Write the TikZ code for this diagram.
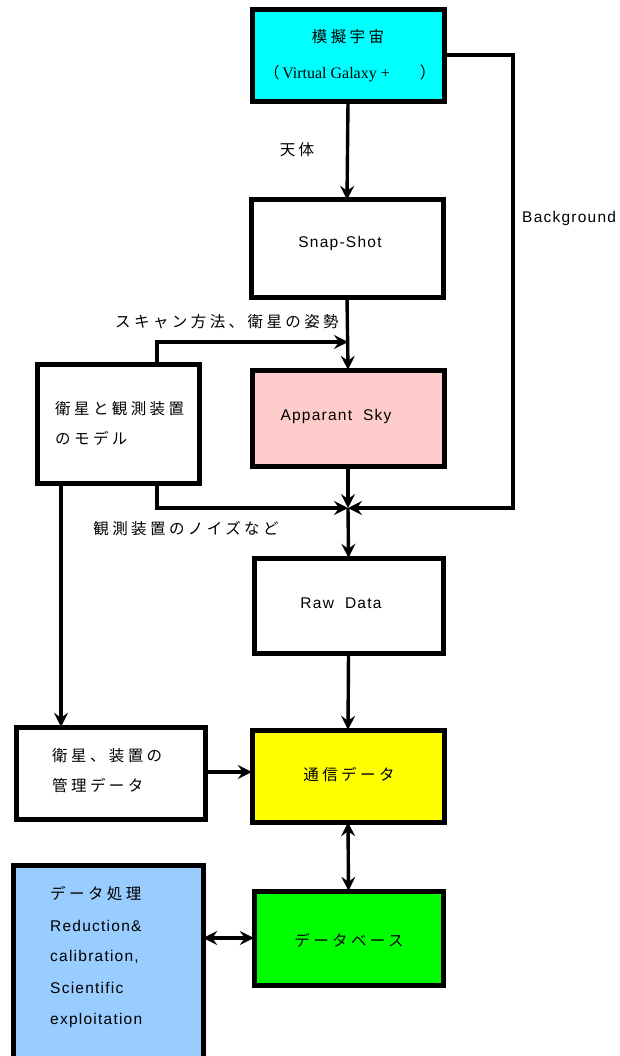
\documentclass[tikz,border=0pt]{standalone}
\usepackage{fontspec}
\setmainfont{Liberation Sans}[LetterSpace=8]
\newfontfamily\jp{Noto Sans CJK JP}[LetterSpace=22]
\newfontfamily\serifx{Liberation Serif}
\usetikzlibrary{arrows.meta}
\definecolor{cyanbox}{HTML}{00FFFF}
\definecolor{pinkbox}{HTML}{FFCCCC}
\definecolor{yellowbox}{HTML}{FFFF00}
\definecolor{greenbox}{HTML}{00FF00}
\definecolor{bluebox}{HTML}{99CCFF}
\tikzset{
  boxline/.style={line width=5pt},
  conn/.style={line width=3.4pt, -{Stealth[length=14pt,width=14pt,inset=5pt]}},
  dconn/.style={line width=3.4pt, {Stealth[length=14pt,width=14pt,inset=5pt]}-{Stealth[length=14pt,width=14pt,inset=5pt]}},
  lbl/.style={inner sep=0pt, font=\fontsize{15.5}{17}\selectfont},
}
\begin{document}
\begin{tikzpicture}[x=1pt,y=-1pt]
\useasboundingbox (0,0) rectangle (619,1056);
\begin{scope}
\clip (0,0) rectangle (619,1056);
% boxes
\draw[boxline, fill=cyanbox] (252,10) rectangle (444,102);
\node (sim) [minimum width=192pt, minimum height=92pt, inner sep=0pt] at (348,56) {};
\draw[boxline, fill=white] (251,200) rectangle (443,297);
\node (snap) [minimum width=192pt, minimum height=97pt, inner sep=0pt] at (347,248.5) {};
\draw[boxline, fill=pinkbox] (252,370) rectangle (444,466);
\node (sky) [minimum width=192pt, minimum height=96pt, inner sep=0pt] at (348,418) {};
\draw[boxline, fill=white] (37,364) rectangle (199,483);
\node (model) [minimum width=162pt, minimum height=119pt, inner sep=0pt] at (118,423.5) {};
\draw[boxline, fill=white] (254,558) rectangle (443,653);
\node (raw) [minimum width=189pt, minimum height=95pt, inner sep=0pt] at (348.5,605.5) {};
\draw[boxline, fill=white] (16,727) rectangle (205,819);
\node (mgmt) [minimum width=189pt, minimum height=92pt, inner sep=0pt] at (110.5,773) {};
\draw[boxline, fill=yellowbox] (252,730) rectangle (444,822);
\node (comm) [minimum width=192pt, minimum height=92pt, inner sep=0pt] at (348,776) {};
\draw[boxline, fill=greenbox] (254,891) rectangle (443,985);
\node (db) [minimum width=189pt, minimum height=94pt, inner sep=0pt] at (348.5,938) {};
\draw[boxline, fill=bluebox] (13,865) rectangle (203,1070);
\node (proc) [minimum width=190pt, minimum height=205pt, inner sep=0pt] at (108,967.5) {};
\end{scope}

% texts in boxes
\node[lbl] at (348,37) {\jp 模擬宇宙};
\node[lbl] at (350,73) {\jp （\,\serifx\fontsize{16}{18}\selectfont Virtual Galaxy +\hspace{30pt}\jp ）};
\node[lbl] at (340,243) {Snap-Shot};
\node[lbl] at (336,416) {Apparant\ \ Sky};
\node[lbl, anchor=west] at (55,409) {\jp 衛星と観測装置};
\node[lbl, anchor=west] at (55,438) {\jp のモデル};
\node[lbl] at (341,603) {Raw\ \ Data};
\node[lbl, anchor=west] at (52,756) {\jp 衛星、装置の};
\node[lbl, anchor=west] at (52,786) {\jp 管理データ};
\node[lbl] at (349,775) {\jp 通信データ};
\node[lbl] at (349,940) {\jp データベース};
\node[lbl, anchor=west] at (50,894) {\jp データ処理};
\node[lbl, anchor=west] at (50,926) {Reduction\&};
\node[lbl, anchor=west] at (50,957) {calibration,};
\node[lbl, anchor=west] at (50,988) {Scientific};
\node[lbl, anchor=west] at (50,1020) {exploitation};

% connector labels
\node[lbl] (l1) at (297,150) {\jp 天体};
\node[lbl, anchor=west] (l2) at (522,218) {Background};
\node[lbl] (l3) at (227,322) {\jp スキャン方法、衛星の姿勢};
\node[lbl] (l4) at (186,529) {\jp 観測装置のノイズなど};

% junction coordinates
\coordinate (j1) at (348,342);
\coordinate (j2) at (348,508);

% connectors
\draw[conn] (sim.south) -- (snap.north);
\draw[conn] (snap.south) -- (sky.north);
\draw[conn] (model.north -| 157,0) |- (j1);
\draw[conn] (model.south -| 157,0) |- (j2);
\draw[conn] (sim.east |- 0,55) -| (513,508) -- (j2);
\draw[conn] (sky.south) -- (j2);
\draw[conn] (j2) -- (raw.north);
\draw[conn] (raw.south) -- (comm.north);
\draw[conn] (model.south -| 61,0) -- (mgmt.north -| 61,0);
\draw[conn] (mgmt.east |- 0,772) -- (comm.west |- 0,772);
\draw[dconn] (comm.south) -- (db.north);
\draw[dconn] (proc.east |- 0,938) -- (db.west);
\end{tikzpicture}
\end{document}
